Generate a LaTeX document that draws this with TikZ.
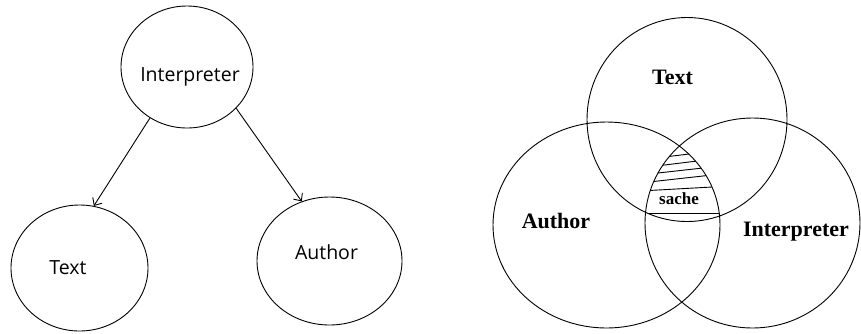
\documentclass[tikz,border=0pt]{standalone}
\usepackage{fontspec}
\newfontfamily\sansfnt{Open Sans}
\newfontfamily\seriffnt{Liberation Serif}
\usepackage{tikz}
\usetikzlibrary{shapes,arrows.meta}

\begin{document}
\begin{tikzpicture}[x=1pt,y=-1pt,line width=0.9pt,
    circ/.style={ellipse,draw,inner sep=0pt},
    sans/.style={font=\sansfnt\fontsize{19.5}{22}\selectfont},
    lbl/.style={font=\seriffnt\bfseries\fontsize{22}{24}\selectfont},
    >={Straight Barb[length=6pt,width=11pt]}]
    \useasboundingbox (0,0) rectangle (861,333);
    % left: who reads what
    \node[circ, minimum width=132pt, minimum height=122pt,
          label={[sans,xshift=3pt,yshift=-10pt]center:Interpreter}] (interp) at (187,67)  {};
    \node[circ, minimum width=137pt, minimum height=126pt,
          label={[sans,xshift=-11.5pt]center:Text}]                 (text)   at (79.5,268) {};
    \node[circ, minimum width=145pt, minimum height=128pt,
          label={[sans,xshift=-3pt,yshift=9pt]center:Author}]       (author) at (329.5,261) {};
    \path[->]
    (interp.234) edge (text.77)
    (interp.320) edge (author.115);
    % right: three sets
    \coordinate (v_text)   at (687,119.5);
    \coordinate (v_author) at (606.5,225);
    \coordinate (v_interp) at (752.5,223);
    \draw (v_text) ellipse (100pt and 102pt)
          (v_author) ellipse (113.5pt and 103pt)
          (v_interp) ellipse (107.5pt and 105pt);
    \begin{scope} % hatch the common part
      \clip (v_text) ellipse (100pt and 102pt);
      \clip (v_author) ellipse (113.5pt and 103pt);
      \clip (v_interp) ellipse (107.5pt and 105pt);
      \foreach \ya/\yb in {160/149, 168/157, 175/165, 183/173, 191/186}
        \draw (640,\ya) -- (730,\yb);
      \draw (640,213) -- (730,213);
      \draw (672,221) -- (730,221);
    \end{scope}
    \node[lbl] (l_text)   at (672.5,77.5) {Text};
    \node[lbl] (l_author) at (556,221)    {Author};
    \node[lbl] (l_interp) at (796,232)    {Interpreter};
    \node[font=\seriffnt\bfseries\fontsize{17}{18}\selectfont] (l_sache) at (679,199) {sache};
\end{tikzpicture}
\end{document}
